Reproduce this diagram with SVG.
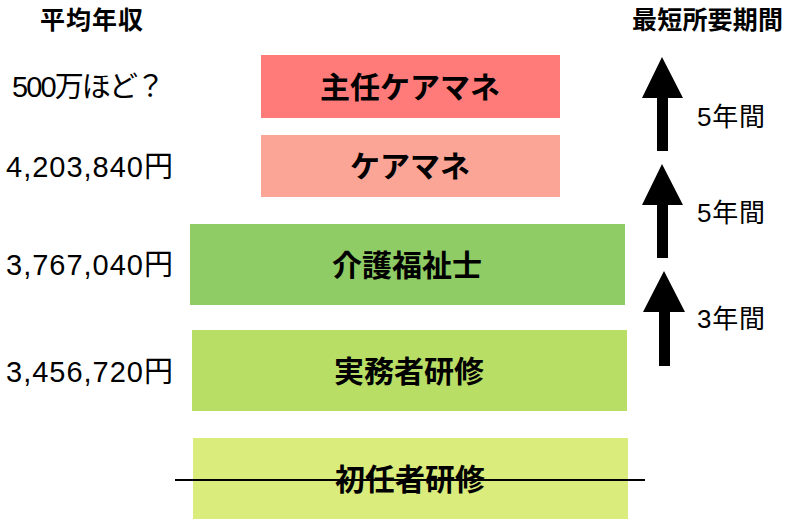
<svg xmlns="http://www.w3.org/2000/svg" width="791" height="520" viewBox="0 0 791 520">
<style>
text{font-family:"Liberation Sans","Noto Sans CJK JP",sans-serif;fill:#000}
.h{font-size:25px;font-weight:bold}
.v{font-size:29px}
.n{font-size:30px;font-weight:bold;text-anchor:middle;dominant-baseline:central}
.y{font-size:26px}
.arr{fill:#000}
</style>
<rect width="791" height="520" fill="#fff"/>
<g id="labels">
<text class="h" x="40" y="29" textLength="103">平均年収</text>
<text class="h" x="632" y="29" textLength="151">最短所要期間</text>
<text class="v" x="12" y="97" textLength="153">500万ほど？</text>
<text class="v" x="6" y="177" textLength="167">4,203,840円</text>
<text class="v" x="6" y="275" textLength="167">3,767,040円</text>
<text class="v" x="6" y="382" textLength="167">3,456,720円</text>
<text class="y" x="697" y="126" textLength="68">5年間</text>
<text class="y" x="697" y="222" textLength="68">5年間</text>
<text class="y" x="697" y="328" textLength="68">3年間</text>
</g>
<g id="node-shunin"><rect x="261" y="55" width="299" height="63" fill="#FF7B7A"/><text class="n" x="410" y="87">主任ケアマネ</text></g>
<g id="node-caremane"><rect x="261" y="135" width="299" height="62" fill="#FBA597"/><text class="n" x="410" y="166">ケアマネ</text></g>
<g id="node-kaigo"><rect x="190" y="224" width="435" height="81" fill="#8FCC65"/><text class="n" x="407" y="265">介護福祉士</text></g>
<g id="node-jitsumu"><rect x="192" y="330" width="435" height="81" fill="#B9DE66"/><text class="n" x="409" y="371">実務者研修</text></g>
<g id="node-shonin"><rect x="193" y="438" width="435" height="81" fill="#DAEC7C"/><text class="n" x="410" y="479">初任者研修</text></g>
<g id="connectors">
<line x1="175" y1="480" x2="645" y2="480" stroke="#000" stroke-width="2"/>
<polygon class="arr" points="662,57 683,98 668,98 668,151 657,151 657,98 642,98"/>
<polygon class="arr" points="662,164 683,205 668,205 668,258 657,258 657,205 642,205"/>
<polygon class="arr" points="664,271 685,312 670,312 670,366 659,366 659,312 643,312"/>
</g>
</svg>
